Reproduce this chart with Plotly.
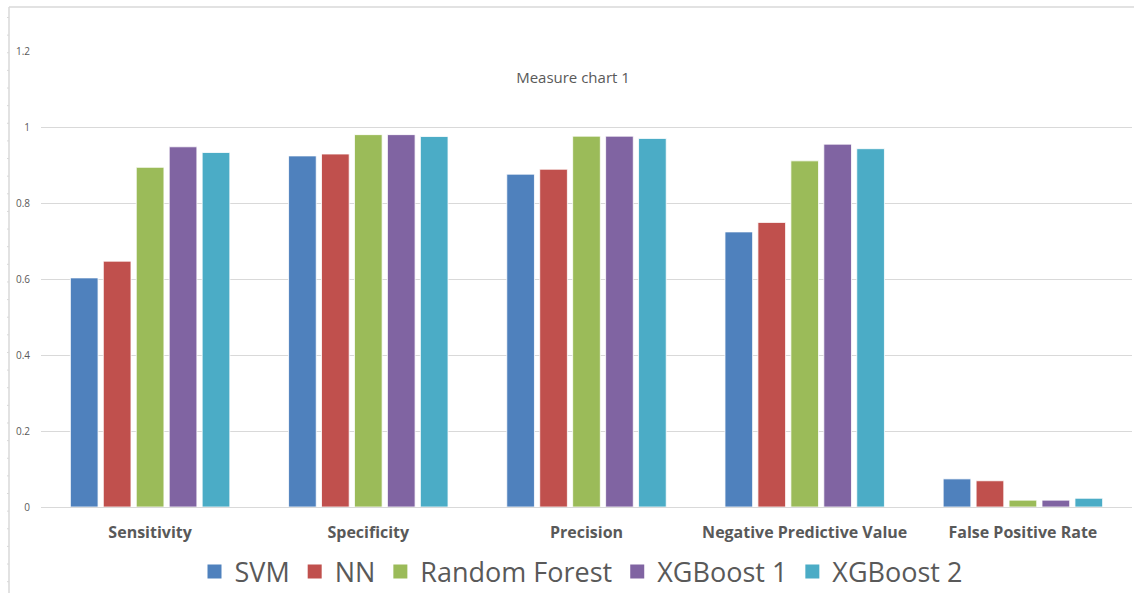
import plotly.graph_objects as go

# Evaluation measures for each classifier
measures = ["Sensitivity", "Specificity", "Precision", "Negative Predictive Value", "False Positive Rate"]
svm = [0.603, 0.924, 0.876, 0.724, 0.074]
nn = [0.647, 0.929, 0.889, 0.749, 0.069]
random_forest = [0.894, 0.980, 0.976, 0.911, 0.018]
xgboost_1 = [0.948, 0.980, 0.976, 0.955, 0.018]
xgboost_2 = [0.933, 0.975, 0.970, 0.943, 0.023]

series = [
    ("SVM", svm, "#4F81BD"),
    ("NN", nn, "#C0504D"),
    ("Random Forest", random_forest, "#9BBB59"),
    ("XGBoost 1", xgboost_1, "#8064A2"),
    ("XGBoost 2", xgboost_2, "#4BACC6"),
]

y_ticks = [0, 0.2, 0.4, 0.6, 0.8, 1, 1.2]
y_tick_text = ["0", "0.2", "0.4", "0.6", "0.8", "1", "1.2"]

W, H = 1134, 593
GRID = "#D9D9D9"
TEXT = "#595959"
FONT = "Open Sans, Noto Sans, sans-serif"

fig = go.Figure()
for name, values, color in series:
    fig.add_trace(go.Bar(
        name=name,
        x=measures,
        y=values,
        showlegend=False,
        marker=dict(color=color, line=dict(color="rgba(255,255,255,0.8)", width=1)),
    ))
# Legend entries with larger square swatches
for name, values, color in series:
    fig.add_trace(go.Scatter(
        name=name, x=[None], y=[None], mode="markers",
        marker=dict(symbol="square", size=14, color=color),
        hoverinfo="skip",
    ))

# Sheet frame: top border and the left ruler with its small tick marks
shapes = [
    dict(type="line", xref="paper", yref="paper",
         x0=-32 / (W - 43), x1=1.05, y0=1 + 44 / 456, y1=1 + 44 / 456,
         line=dict(color=GRID, width=1.5)),
    dict(type="line", xref="paper", yref="paper",
         x0=-32 / (W - 43), x1=-32 / (W - 43), y0=-86 / 456, y1=1 + 44 / 456,
         line=dict(color=GRID, width=1.5)),
]
k = 0
while True:
    py = 17.5 + 17.63 * k
    if py > H:
        break
    yp = (507 - py) / 456
    shapes.append(dict(type="line", xref="paper", yref="paper",
                       x0=-34 / (W - 43), x1=-32 / (W - 43), y0=yp, y1=yp,
                       line=dict(color=GRID, width=1)))
    k += 1

fig.update_layout(
    width=W, height=H,
    margin=dict(l=41, r=2, t=51, b=86),
    paper_bgcolor="white",
    plot_bgcolor="white",
    barmode="group",
    bargap=0.245,
    bargroupgap=0.16,
    font=dict(family=FONT, color=TEXT),
    title=dict(text="Measure chart 1", x=573 / W, xanchor="center",
               y=1 - 78 / H, yanchor="middle",
               font=dict(size=15, color=TEXT, family=FONT)),
    xaxis=dict(
        showgrid=False, showline=False, ticks="",
        tickfont=dict(size=16, color=TEXT, family=FONT, weight="bold"),
        ticklabelstandoff=14,
    ),
    yaxis=dict(
        range=[0, 1.2001],
        tickvals=y_ticks, ticktext=y_tick_text,
        showgrid=True, gridcolor=GRID, gridwidth=1,
        zeroline=True, zerolinecolor=GRID, zerolinewidth=1,
        showline=False, ticks="",
        tickfont=dict(size=10, color=TEXT, family=FONT),
        ticklabelstandoff=10,
    ),
    legend=dict(
        orientation="h", x=581 / W, xanchor="center", xref="container",
        y=1 - 572 / H, yanchor="middle", yref="container",
        font=dict(size=27, color=TEXT, family=FONT),
        itemwidth=30, traceorder="normal",
    ),
    shapes=shapes,
)

fig.write_html("out.html")
